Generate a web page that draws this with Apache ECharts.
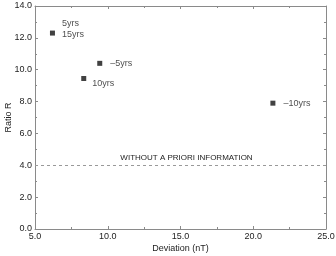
<!DOCTYPE html>
<html><head><meta charset="utf-8">
<script src="https://cdn.jsdelivr.net/npm/echarts@6/dist/echarts.min.js"></script>
<style>html,body{margin:0;padding:0;background:#fff}#c{width:336px;height:256px}</style>
</head><body><div id="c"></div>
<script>
var deviation = [6.2, 9.45, 8.35, 21.35];
var ratio = [12.3, 10.4, 9.45, 7.9];
var pointNames = ['5yrs\n15yrs', '\u20135yrs', '10yrs', '\u201310yrs'];
var baseline = 4.0;
var baselineLabel = 'WITHOUT A PRIORI INFORMATION';
var xTitle = 'Deviation (nT)';
var yTitle = 'Ratio R';

var labelOffsets = [[2, -4], [3, 0], [1, 5], [3, 0]];
var data = deviation.map(function (x, i) {
  return { value: [x, ratio[i]], name: pointNames[i],
    label: { offset: labelOffsets[i] } };
});
var font = 'Liberation Sans, Arial, sans-serif';
var axisCol = '#8a8a8a';
var txt = '#222';
function fmt(v) { return v.toFixed(1); }
var chart = echarts.init(document.getElementById('c'), null, { renderer: 'canvas' });
chart.setOption({
  animation: false,
  grid: { left: 35, right: 10, top: 6, bottom: 27, containLabel: false, outerBoundsMode: 'none' },
  xAxis: [{
    type: 'value', min: 5, max: 25, interval: 5,
    name: xTitle, nameLocation: 'middle', nameGap: 15, nameMoveOverlap: false,
    nameTextStyle: { fontSize: 9, color: txt, fontFamily: font },
    axisLine: { lineStyle: { color: axisCol } },
    axisTick: { inside: true, length: 3, lineStyle: { color: axisCol } },
    minorTick: { show: true, splitNumber: 2, length: 2, lineStyle: { color: axisCol } },
    splitLine: { show: false },
    axisLabel: { fontSize: 9, color: txt, fontFamily: font, margin: 3, formatter: fmt }
  }, {
    type: 'value', position: 'top', min: 5, max: 25, interval: 5,
    axisLine: { show: true, onZero: false, lineStyle: { color: axisCol } },
    axisTick: { inside: true, length: 3, lineStyle: { color: axisCol } },
    minorTick: { show: true, splitNumber: 2, length: 2, lineStyle: { color: axisCol } },
    splitLine: { show: false }, axisLabel: { show: false }
  }],
  yAxis: [{
    type: 'value', min: 0, max: 14, interval: 2,
    name: yTitle, nameLocation: 'middle', nameGap: 22, nameMoveOverlap: false,
    nameTextStyle: { fontSize: 9, color: txt, fontFamily: font },
    axisLine: { show: true, lineStyle: { color: axisCol } },
    axisTick: { show: true, inside: true, length: 3, lineStyle: { color: axisCol } },
    minorTick: { show: true, splitNumber: 2, length: 2, lineStyle: { color: axisCol } },
    splitLine: { show: false },
    axisLabel: { fontSize: 9, color: txt, fontFamily: font, margin: 3, formatter: fmt }
  }, {
    type: 'value', position: 'right', min: 0, max: 14, interval: 2,
    axisLine: { show: true, onZero: false, lineStyle: { color: axisCol } },
    axisTick: { show: true, inside: true, length: 3, lineStyle: { color: axisCol } },
    minorTick: { show: true, splitNumber: 2, length: 2, lineStyle: { color: axisCol } },
    splitLine: { show: false }, axisLabel: { show: false }
  }],
  series: [{
    type: 'scatter', symbol: 'rect', symbolSize: 5,
    itemStyle: { color: '#111' },
    data: data,
    label: { show: true, position: 'right', formatter: '{b}', fontSize: 9,
      lineHeight: 11, color: txt, fontFamily: font },
    markLine: {
      silent: true, symbol: 'none',
      lineStyle: { color: '#999', type: [3, 3], width: 1 },
      label: { show: true, position: 'insideMiddleTop', formatter: baselineLabel,
        fontSize: 8, color: txt, fontFamily: font, distance: 3, offset: [6, 0] },
      data: [{ yAxis: baseline }]
    }
  }]
});
</script></body></html>
